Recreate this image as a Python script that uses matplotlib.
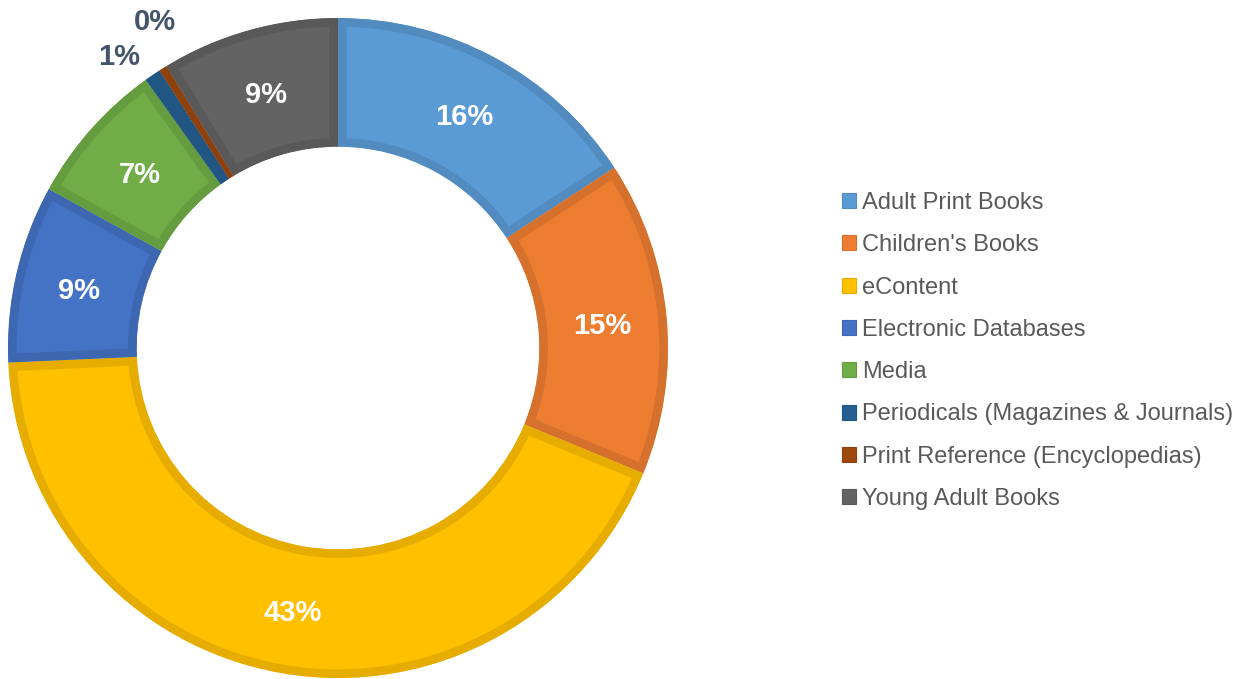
import numpy as np
import matplotlib.pyplot as plt
import matplotlib.colors as mc
from matplotlib.patches import Patch, Wedge

plt.rcParams['font.family'] = ['Liberation Sans', 'DejaVu Sans']

categories = ['Adult Print Books', "Children's Books", 'eContent', 'Electronic Databases',
              'Media', 'Periodicals (Magazines & Journals)', 'Print Reference (Encyclopedias)',
              'Young Adult Books']
values = [15.8, 15.4, 43.1, 8.7, 7.1, 0.8, 0.4, 8.7]
labels = ['16%', '15%', '43%', '9%', '7%', '1%', '0%', '9%']
colors = ['#5B9BD5', '#ED7D31', '#FFC000', '#4472C4', '#70AD47', '#255E91', '#9E480E', '#636363']

W, H = 1254, 679
cx, cy, R = 338, 348, 330  # pixel centre / radius of the ring

fig = plt.figure(figsize=(W / 100, H / 100), dpi=100)
ax = fig.add_axes([0, 0, 1, 1])


def darker(c, f=0.9):
    r, g, b = mc.to_rgb(c)
    return (r * f, g * f, b * f)


width = 0.39
wedges, _ = ax.pie(values, colors=colors, startangle=90, counterclock=False,
                   radius=1, wedgeprops=dict(width=width), frame=False)
ax.set_aspect('auto')
ax.set_xlim(-cx / R, (W - cx) / R)
ax.set_ylim(-(H - cy) / R, cy / R)
ax.axis('off')

# darker inner border: stroke clipped to a copy of each wedge
for w, c in zip(wedges, colors):
    clip = Wedge(w.center, w.r, w.theta1, w.theta2, width=w.width,
                 transform=ax.transData)
    w.set_edgecolor(darker(c))
    w.set_linewidth(12.5)
    w.set_clip_on(True)
    w.set_clip_path(clip)

# labels
mid_r = 1 - width / 2
outside = {5: (1.11, 2.5), 6: (1.14, -3.0)}
for i, (w, lab) in enumerate(zip(wedges, labels)):
    ang = (w.theta1 + w.theta2) / 2
    if i in outside:
        r, da = outside[i]
        a = np.deg2rad(ang + da)
        ax.text(r * np.cos(a), r * np.sin(a), lab, ha='center', va='center_baseline',
                fontsize=21, fontweight='bold', color='#44546A')
    else:
        a = np.deg2rad(ang)
        ax.text(mid_r * np.cos(a), mid_r * np.sin(a), lab, ha='center', va='center_baseline',
                fontsize=21, fontweight='bold', color='white')

handles = [Patch(facecolor=c, edgecolor=darker(c), linewidth=0.8) for c in colors]
leg = fig.legend(handles, categories, loc='center left',
                 bbox_to_anchor=(842 / W, 1 - 351 / H),
                 frameon=False, fontsize=17, labelcolor='#595959',
                 handlelength=0.6, handleheight=0.6, handletextpad=0.25,
                 labelspacing=0.86, borderaxespad=0, borderpad=0)

fig.savefig('out.png', dpi=100)
